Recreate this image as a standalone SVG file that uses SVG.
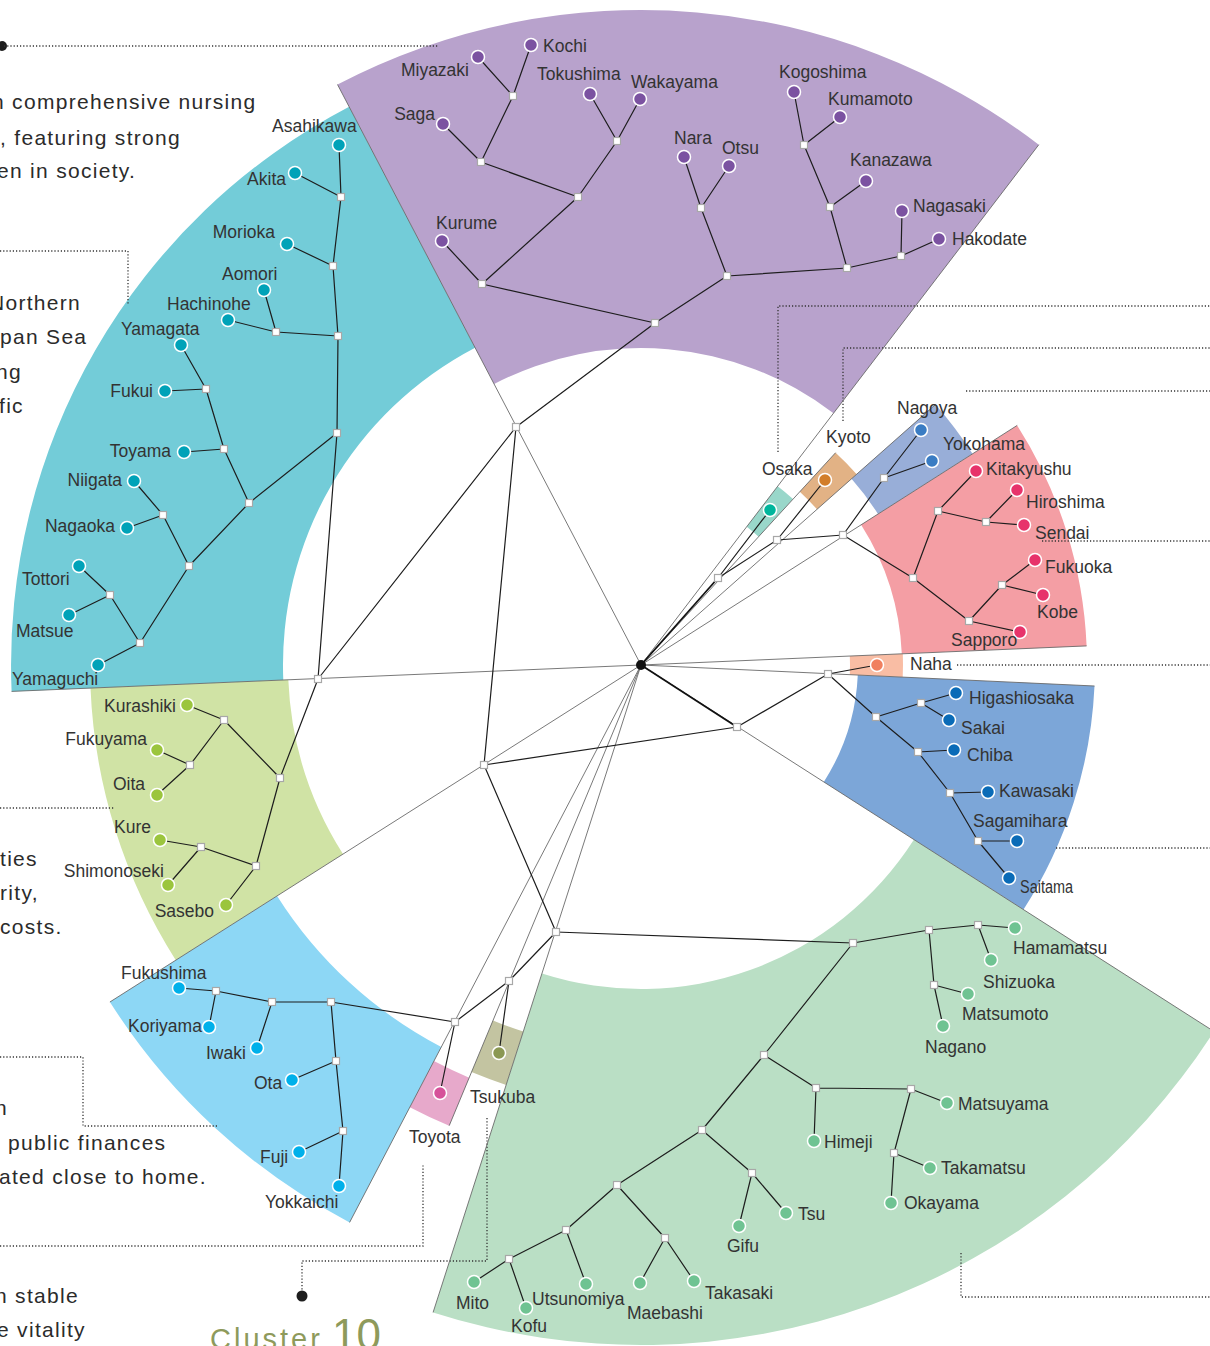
<svg xmlns="http://www.w3.org/2000/svg" xmlns:xlink="http://www.w3.org/1999/xlink" width="1210" height="1346" viewBox="0 0 1210 1346">
  <defs>
    <style>
      .lb { font-family: "Liberation Sans", Arial, sans-serif; font-size: 17.5px; fill: #333; }
      .e { text-anchor: end; }
      .body { font-family: "Liberation Sans", Arial, sans-serif; font-size: 21px; fill: #2b2b2b; letter-spacing: 1.3px; }
      .cl { font-family: "Liberation Sans", Arial, sans-serif; fill: #8e9a5b; }
      .bd { stroke: #6a6a6a; stroke-width: 0.9; fill: none; }
      .ed { stroke: #1d1d1d; stroke-width: 1.2; fill: none; stroke-linecap: round; }
      .root { stroke: #111; stroke-width: 1.8; fill: none; }
      .dt { stroke: #333; stroke-width: 1.3; fill: none; stroke-dasharray: 1.2 2; }
      .dot circle { stroke: #fff; stroke-width: 1.5; }
      .pu circle { fill: #7b52a1; }
      .cy circle { fill: #00a2b8; }
      .yg circle { fill: #9bc53d; }
      .lbl circle { fill: #00b0ea; }
      .gr circle { fill: #6fc392; }
      .bl circle { fill: #0a6bb7; }
      .pk circle { fill: #e7336b; }
      .ng circle { fill: #3a7cc3; }
    </style>
    <rect id="j" x="-3.5" y="-3.5" width="7" height="7" fill="#fff" stroke="#a8a8a8" stroke-width="1.2"/>
  </defs>

  <!-- cluster sectors (annular wedges around the root) -->
  <g id="sectors">
    <path id="sec-cyan" d="M 11.6 691.4 A 630 630 0 0 1 349.1 106.7 L 475.1 347.7 A 358 358 0 0 0 283.3 680 Z" fill="#73ccd8"/>
    <path id="sec-purple" d="M 337.5 84.5 A 655 655 0 0 1 1038.8 144.7 L 833.5 413.2 A 317 317 0 0 0 494.1 384.1 Z" fill="#b8a2cc"/>
    <path id="sec-yellow" d="M 175.8 960.2 A 551 551 0 0 1 90.5 688.1 L 288.3 679.8 A 353 353 0 0 0 343 854.1 Z" fill="#d0e3a5"/>
    <path id="sec-lightblue" d="M 349.6 1222.4 A 629 629 0 0 1 109.9 1002 L 277.1 895.9 A 431 431 0 0 0 441.3 1047 Z" fill="#8dd7f5"/>
    <path id="sec-toyota" d="M 449.2 1125.7 A 499 499 0 0 1 409.8 1107.2 L 433.9 1061.1 A 447 447 0 0 0 469.2 1077.7 Z" fill="#e7a9cb"/>
    <path id="sec-tsukuba" d="M 506.2 1084.9 A 441 441 0 0 1 471.5 1072.1 L 493 1020.4 A 385 385 0 0 0 523.3 1031.6 Z" fill="#c3c4a1"/>
    <path id="sec-green" d="M 1213.9 1031.4 A 680 680 0 0 1 433.1 1312.4 L 542 973.5 A 324 324 0 0 0 914 839.6 Z" fill="#badfc5"/>
    <path id="sec-blue" d="M 1094.5 686 A 454 454 0 0 1 1023.5 909.6 L 823.8 781.9 A 217 217 0 0 0 857.8 675 Z" fill="#7ca6d8"/>
    <path id="sec-naha" d="M 902.8 653.8 A 262 262 0 0 1 902.7 677.1 L 849.8 674.7 A 209 209 0 0 0 849.8 656.1 Z" fill="#f9bda4"/>
    <path id="sec-pink" d="M 1017.2 425.4 A 446 446 0 0 1 1086.6 645.9 L 901.8 653.8 A 261 261 0 0 0 861.1 524.8 Z" fill="#f49ea4"/>
    <path id="sec-nagoya" d="M 935.4 404.6 A 393 393 0 0 1 972.5 453.8 L 878 514 A 281 281 0 0 0 851.5 478.8 Z" fill="#98aed8"/>
    <path id="sec-kyoto" d="M 835.6 452.7 A 288 288 0 0 1 856.7 474.2 L 817 509.3 A 235 235 0 0 0 799.8 491.7 Z" fill="#e2b285"/>
    <path id="sec-osaka" d="M 777.7 486.3 A 225 225 0 0 1 793 499.1 L 758.6 536.7 A 174 174 0 0 0 746.7 526.8 Z" fill="#99d7ca"/>
  </g>

  <!-- leader lines and body text of the surrounding page -->
  <g id="leaders">
    <circle cx="2" cy="46" r="5" fill="#1d1d1d"/>
    <path class="dt" d="M 4 46 H 438"/>
    <path class="dt" d="M 0 251 H 128 V 305"/>
    <path class="dt" d="M 0 808 H 115"/>
    <path class="dt" d="M 0 1057 H 83 V 1126 H 217"/>
    <path class="dt" d="M 0 1246 H 423 V 1165"/>
    <path class="dt" d="M 487 1118 V 1261 H 302 V 1292"/>
    <circle cx="302" cy="1296" r="5.5" fill="#1d1d1d"/>
    <path class="dt" d="M 778 452 V 306 H 1210"/>
    <path class="dt" d="M 843 421 V 348 H 1210"/>
    <path class="dt" d="M 966 391 H 1210"/>
    <path class="dt" d="M 1042 541 H 1210"/>
    <path class="dt" d="M 957 665 H 1210"/>
    <path class="dt" d="M 1056 848 H 1210"/>
    <path class="dt" d="M 961 1253 V 1297 H 1210"/>
  </g>
  <g id="page-text" class="body">
    <text x="-8" y="109">n comprehensive nursing</text>
    <text x="0" y="145">, featuring strong</text>
    <text x="-3" y="178">en in society.</text>
    <text x="-11" y="310">Northern</text>
    <text x="0" y="344">pan Sea</text>
    <text x="-4" y="379">ng</text>
    <text x="-1" y="413">fic</text>
    <text x="0" y="866">ties</text>
    <text x="0" y="900">rity,</text>
    <text x="0" y="934">costs.</text>
    <text x="-5" y="1115">n</text>
    <text x="8" y="1150">public finances</text>
    <text x="-1" y="1184">ated close to home.</text>
    <text x="-5" y="1303">n stable</text>
    <text x="-3" y="1337">e vitality</text>
  </g>
  <g id="title">
    <text class="cl" x="210" y="1349" font-size="29" letter-spacing="3">Cluster</text>
    <text class="cl" x="332" y="1350" font-size="44">10</text>
  </g>

  <!-- connectors: cluster boundary rays and dendrogram branches -->
  <g id="connectors">
    <g class="bd">
      <path d="M 641 665 L 337.5 84.5"/>
      <path d="M 641 665 L 11.6 691.4"/>
      <path d="M 641 665 L 109.9 1002"/>
      <path d="M 641 665 L 349.6 1222.4"/>
      <path d="M 641 665 L 449.2 1125.7"/>
      <path d="M 641 665 L 433.1 1312.4"/>
      <path d="M 641 665 L 1213.9 1031.4"/>
      <path d="M 641 665 L 1094.5 686"/>
      <path d="M 641 665 L 1086.6 645.9"/>
      <path d="M 641 665 L 1017.2 425.4"/>
      <path d="M 641 665 L 935.4 404.6"/>
      <path d="M 641 665 L 835.6 452.7"/>
      <path d="M 641 665 L 1038.8 144.7"/>
    </g>
    <g class="root">
      <path d="M 641 665 L 737 727"/>
      <path d="M 641 665 L 718 578"/>
    </g>
    <g class="ed">
      <!-- trunk -->
      <path d="M 737 727 L 828 674"/>
      <path d="M 737 727 L 484 765"/>
      <path d="M 484 765 L 516 427"/>
      <path d="M 484 765 L 556 932"/>
      <path d="M 516 427 L 318 679"/>
      <path d="M 516 427 L 655 323"/>
      <path d="M 318 679 L 337 433"/>
      <path d="M 318 679 L 280 778"/>
      <path d="M 556 932 L 853 943"/>
      <path d="M 556 932 L 509 981"/>
      <path d="M 509 981 L 499 1053"/>
      <path d="M 509 981 L 455 1022"/>
      <path d="M 455 1022 L 440 1093"/>
      <path d="M 455 1022 L 331 1002"/>
      <path d="M 718 578 L 770 510"/>
      <path d="M 718 578 L 777 540"/>
      <path d="M 777 540 L 825 480"/>
      <path d="M 777 540 L 843 535"/>
      <path d="M 843 535 L 884 478"/>
      <path d="M 843 535 L 913 578"/>
      <path d="M 828 674 L 877 665"/>
      <path d="M 828 674 L 876 717"/>
      <!-- purple cluster -->
      <path d="M 655 323 L 482 284 M 655 323 L 727 276"/>
      <path d="M 482 284 L 442 241 M 482 284 L 578 197"/>
      <path d="M 578 197 L 481 162 M 578 197 L 617 141"/>
      <path d="M 481 162 L 443 124 M 481 162 L 513 96"/>
      <path d="M 513 96 L 478 57 M 513 96 L 531 45"/>
      <path d="M 617 141 L 590 94 M 617 141 L 640 99"/>
      <path d="M 727 276 L 701 208 M 727 276 L 847 268"/>
      <path d="M 701 208 L 684 157 M 701 208 L 729 166"/>
      <path d="M 847 268 L 830 207 M 847 268 L 901 256"/>
      <path d="M 830 207 L 804 145 M 830 207 L 866 181"/>
      <path d="M 804 145 L 794 92 M 804 145 L 840 117"/>
      <path d="M 901 256 L 902 211 M 901 256 L 939 239"/>
      <!-- cyan cluster -->
      <path d="M 337 433 L 338 336 M 337 433 L 249 503"/>
      <path d="M 338 336 L 333 266 M 338 336 L 276 332"/>
      <path d="M 276 332 L 264 290 M 276 332 L 228 320"/>
      <path d="M 333 266 L 341 197 M 333 266 L 287 244"/>
      <path d="M 341 197 L 339 145 M 341 197 L 295 173"/>
      <path d="M 249 503 L 224 449 M 249 503 L 189 566"/>
      <path d="M 224 449 L 184 452 M 224 449 L 206 389"/>
      <path d="M 206 389 L 181 345 M 206 389 L 165 391"/>
      <path d="M 189 566 L 163 515 M 189 566 L 140 643"/>
      <path d="M 163 515 L 134 481 M 163 515 L 127 528"/>
      <path d="M 140 643 L 110 595 M 140 643 L 98 665"/>
      <path d="M 110 595 L 79 566 M 110 595 L 69 615"/>
      <!-- yellow-green cluster -->
      <path d="M 280 778 L 224 720 M 280 778 L 256 866"/>
      <path d="M 224 720 L 187 705 M 224 720 L 190 765"/>
      <path d="M 190 765 L 157 750 M 190 765 L 157 795"/>
      <path d="M 256 866 L 201 847 M 256 866 L 226 905"/>
      <path d="M 201 847 L 160 840 M 201 847 L 168 885"/>
      <!-- light blue cluster -->
      <path d="M 331 1002 L 272 1002 M 331 1002 L 336 1061"/>
      <path d="M 272 1002 L 216 991 M 272 1002 L 257 1048"/>
      <path d="M 216 991 L 179 988 M 216 991 L 209 1027"/>
      <path d="M 336 1061 L 292 1080 M 336 1061 L 343 1131"/>
      <path d="M 343 1131 L 299 1152 M 343 1131 L 339 1186"/>
      <!-- green cluster -->
      <path d="M 853 943 L 929 930 M 853 943 L 764 1055"/>
      <path d="M 929 930 L 978 925 M 929 930 L 934 985"/>
      <path d="M 978 925 L 1015 928 M 978 925 L 991 960"/>
      <path d="M 934 985 L 968 994 M 934 985 L 943 1026"/>
      <path d="M 764 1055 L 816 1088 M 764 1055 L 702 1130"/>
      <path d="M 816 1088 L 814 1141 M 816 1088 L 911 1089"/>
      <path d="M 911 1089 L 947 1103 M 911 1089 L 894 1153"/>
      <path d="M 894 1153 L 930 1168 M 894 1153 L 891 1203"/>
      <path d="M 702 1130 L 752 1173 M 702 1130 L 617 1185"/>
      <path d="M 752 1173 L 739 1226 M 752 1173 L 786 1213"/>
      <path d="M 617 1185 L 665 1238 M 617 1185 L 566 1230"/>
      <path d="M 665 1238 L 640 1283 M 665 1238 L 694 1281"/>
      <path d="M 566 1230 L 509 1259 M 566 1230 L 586 1284"/>
      <path d="M 509 1259 L 474 1282 M 509 1259 L 526 1308"/>
      <!-- blue cluster -->
      <path d="M 876 717 L 921 703 M 876 717 L 918 752"/>
      <path d="M 921 703 L 956 693 M 921 703 L 949 720"/>
      <path d="M 918 752 L 954 750 M 918 752 L 950 793"/>
      <path d="M 950 793 L 988 792 M 950 793 L 978 841"/>
      <path d="M 978 841 L 1017 841 M 978 841 L 1009 878"/>
      <!-- pink cluster -->
      <path d="M 913 578 L 938 511 M 913 578 L 969 621"/>
      <path d="M 938 511 L 976 471 M 938 511 L 986 522"/>
      <path d="M 986 522 L 1017 490 M 986 522 L 1024 525"/>
      <path d="M 969 621 L 1002 585 M 969 621 L 1020 632"/>
      <path d="M 1002 585 L 1035 560 M 1002 585 L 1043 595"/>
      <!-- Nagoya pair -->
      <path d="M 884 478 L 921 430 M 884 478 L 932 461"/>
    </g>
    <!-- junction markers -->
    <g id="junctions">
      <use xlink:href="#j" x="737" y="727"/><use xlink:href="#j" x="718" y="578"/><use xlink:href="#j" x="828" y="674"/>
      <use xlink:href="#j" x="484" y="765"/><use xlink:href="#j" x="516" y="427"/><use xlink:href="#j" x="318" y="679"/>
      <use xlink:href="#j" x="556" y="932"/><use xlink:href="#j" x="509" y="981"/><use xlink:href="#j" x="455" y="1022"/>
      <use xlink:href="#j" x="777" y="540"/><use xlink:href="#j" x="843" y="535"/>
      <use xlink:href="#j" x="655" y="323"/><use xlink:href="#j" x="482" y="284"/><use xlink:href="#j" x="578" y="197"/>
      <use xlink:href="#j" x="481" y="162"/><use xlink:href="#j" x="513" y="96"/><use xlink:href="#j" x="617" y="141"/>
      <use xlink:href="#j" x="727" y="276"/><use xlink:href="#j" x="701" y="208"/><use xlink:href="#j" x="847" y="268"/>
      <use xlink:href="#j" x="830" y="207"/><use xlink:href="#j" x="804" y="145"/><use xlink:href="#j" x="901" y="256"/>
      <use xlink:href="#j" x="337" y="433"/><use xlink:href="#j" x="338" y="336"/><use xlink:href="#j" x="333" y="266"/>
      <use xlink:href="#j" x="341" y="197"/><use xlink:href="#j" x="276" y="332"/><use xlink:href="#j" x="249" y="503"/>
      <use xlink:href="#j" x="224" y="449"/><use xlink:href="#j" x="206" y="389"/><use xlink:href="#j" x="189" y="566"/>
      <use xlink:href="#j" x="163" y="515"/><use xlink:href="#j" x="140" y="643"/><use xlink:href="#j" x="110" y="595"/>
      <use xlink:href="#j" x="280" y="778"/><use xlink:href="#j" x="224" y="720"/><use xlink:href="#j" x="190" y="765"/>
      <use xlink:href="#j" x="256" y="866"/><use xlink:href="#j" x="201" y="847"/>
      <use xlink:href="#j" x="331" y="1002"/><use xlink:href="#j" x="272" y="1002"/><use xlink:href="#j" x="216" y="991"/>
      <use xlink:href="#j" x="336" y="1061"/><use xlink:href="#j" x="343" y="1131"/>
      <use xlink:href="#j" x="853" y="943"/><use xlink:href="#j" x="929" y="930"/><use xlink:href="#j" x="978" y="925"/>
      <use xlink:href="#j" x="934" y="985"/><use xlink:href="#j" x="764" y="1055"/><use xlink:href="#j" x="816" y="1088"/>
      <use xlink:href="#j" x="911" y="1089"/><use xlink:href="#j" x="894" y="1153"/><use xlink:href="#j" x="702" y="1130"/>
      <use xlink:href="#j" x="752" y="1173"/><use xlink:href="#j" x="617" y="1185"/><use xlink:href="#j" x="665" y="1238"/>
      <use xlink:href="#j" x="566" y="1230"/><use xlink:href="#j" x="509" y="1259"/>
      <use xlink:href="#j" x="876" y="717"/><use xlink:href="#j" x="921" y="703"/><use xlink:href="#j" x="918" y="752"/>
      <use xlink:href="#j" x="950" y="793"/><use xlink:href="#j" x="978" y="841"/>
      <use xlink:href="#j" x="913" y="578"/><use xlink:href="#j" x="938" y="511"/><use xlink:href="#j" x="986" y="522"/>
      <use xlink:href="#j" x="969" y="621"/><use xlink:href="#j" x="1002" y="585"/><use xlink:href="#j" x="884" y="478"/>
    </g>
    <circle id="root" cx="641" cy="665" r="5" fill="#111"/>
  </g>

  <!-- city nodes -->
  <g id="nodes" class="lb">
    <g class="dot pu">
      <g id="kochi"><circle cx="531" cy="45" r="6.5"/><text x="543" y="52">Kochi</text></g>
      <g id="miyazaki"><circle cx="478" cy="57" r="6.5"/><text class="e" x="469" y="76">Miyazaki</text></g>
      <g id="tokushima"><circle cx="590" cy="94" r="6.5"/><text x="537" y="80">Tokushima</text></g>
      <g id="wakayama"><circle cx="640" cy="99" r="6.5"/><text x="631" y="88">Wakayama</text></g>
      <g id="saga"><circle cx="443" cy="124" r="6.5"/><text class="e" x="435" y="120">Saga</text></g>
      <g id="kurume"><circle cx="442" cy="241" r="6.5"/><text x="436" y="229">Kurume</text></g>
      <g id="nara"><circle cx="684" cy="157" r="6.5"/><text x="674" y="144">Nara</text></g>
      <g id="otsu"><circle cx="729" cy="166" r="6.5"/><text x="722" y="154">Otsu</text></g>
      <g id="kogoshima"><circle cx="794" cy="92" r="6.5"/><text x="779" y="78">Kogoshima</text></g>
      <g id="kumamoto"><circle cx="840" cy="117" r="6.5"/><text x="828" y="105">Kumamoto</text></g>
      <g id="kanazawa"><circle cx="866" cy="181" r="6.5"/><text x="850" y="166">Kanazawa</text></g>
      <g id="nagasaki"><circle cx="902" cy="211" r="6.5"/><text x="913" y="212">Nagasaki</text></g>
      <g id="hakodate"><circle cx="939" cy="239" r="6.5"/><text x="952" y="245">Hakodate</text></g>
    </g>
    <g class="dot cy">
      <g id="asahikawa"><circle cx="339" cy="145" r="6.5"/><text x="272" y="132">Asahikawa</text></g>
      <g id="akita"><circle cx="295" cy="173" r="6.5"/><text class="e" x="286" y="185">Akita</text></g>
      <g id="morioka"><circle cx="287" cy="244" r="6.5"/><text class="e" x="275" y="238">Morioka</text></g>
      <g id="aomori"><circle cx="264" cy="290" r="6.5"/><text x="222" y="280">Aomori</text></g>
      <g id="hachinohe"><circle cx="228" cy="320" r="6.5"/><text x="167" y="310">Hachinohe</text></g>
      <g id="yamagata"><circle cx="181" cy="345" r="6.5"/><text x="121" y="335">Yamagata</text></g>
      <g id="fukui"><circle cx="165" cy="391" r="6.5"/><text class="e" x="153" y="397">Fukui</text></g>
      <g id="toyama"><circle cx="184" cy="452" r="6.5"/><text class="e" x="171" y="457">Toyama</text></g>
      <g id="niigata"><circle cx="134" cy="481" r="6.5"/><text class="e" x="122" y="486">Niigata</text></g>
      <g id="nagaoka"><circle cx="127" cy="528" r="6.5"/><text class="e" x="115" y="532">Nagaoka</text></g>
      <g id="tottori"><circle cx="79" cy="566" r="6.5"/><text x="22" y="585">Tottori</text></g>
      <g id="matsue"><circle cx="69" cy="615" r="6.5"/><text x="16" y="637">Matsue</text></g>
      <g id="yamaguchi"><circle cx="98" cy="665" r="6.5"/><text x="12" y="685">Yamaguchi</text></g>
    </g>
    <g class="dot yg">
      <g id="kurashiki"><circle cx="187" cy="705" r="6.5"/><text class="e" x="176" y="712">Kurashiki</text></g>
      <g id="fukuyama"><circle cx="157" cy="750" r="6.5"/><text class="e" x="147" y="745">Fukuyama</text></g>
      <g id="oita"><circle cx="157" cy="795" r="6.5"/><text class="e" x="145" y="790">Oita</text></g>
      <g id="kure"><circle cx="160" cy="840" r="6.5"/><text class="e" x="151" y="833">Kure</text></g>
      <g id="shimonoseki"><circle cx="168" cy="885" r="6.5"/><text class="e" x="164" y="877">Shimonoseki</text></g>
      <g id="sasebo"><circle cx="226" cy="905" r="6.5"/><text class="e" x="214" y="917">Sasebo</text></g>
    </g>
    <g class="dot lbl">
      <g id="fukushima"><circle cx="179" cy="988" r="6.5"/><text x="121" y="979">Fukushima</text></g>
      <g id="koriyama"><circle cx="209" cy="1027" r="6.5"/><text x="128" y="1032">Koriyama</text></g>
      <g id="iwaki"><circle cx="257" cy="1048" r="6.5"/><text x="206" y="1059">Iwaki</text></g>
      <g id="ota"><circle cx="292" cy="1080" r="6.5"/><text x="254" y="1089">Ota</text></g>
      <g id="fuji"><circle cx="299" cy="1152" r="6.5"/><text x="260" y="1163">Fuji</text></g>
      <g id="yokkaichi"><circle cx="339" cy="1186" r="6.5"/><text x="265" y="1208">Yokkaichi</text></g>
    </g>
    <g id="toyota" class="dot"><circle cx="440" cy="1093" r="6.5" fill="#d6519a"/><text x="409" y="1143">Toyota</text></g>
    <g id="tsukuba" class="dot"><circle cx="499" cy="1053" r="6.5" fill="#8b9853"/><text x="470" y="1103">Tsukuba</text></g>
    <g class="dot gr">
      <g id="hamamatsu"><circle cx="1015" cy="928" r="6.5"/><text x="1013" y="954">Hamamatsu</text></g>
      <g id="shizuoka"><circle cx="991" cy="960" r="6.5"/><text x="983" y="988">Shizuoka</text></g>
      <g id="matsumoto"><circle cx="968" cy="994" r="6.5"/><text x="962" y="1020">Matsumoto</text></g>
      <g id="nagano"><circle cx="943" cy="1026" r="6.5"/><text x="925" y="1053">Nagano</text></g>
      <g id="matsuyama"><circle cx="947" cy="1103" r="6.5"/><text x="958" y="1110">Matsuyama</text></g>
      <g id="himeji"><circle cx="814" cy="1141" r="6.5"/><text x="824" y="1148">Himeji</text></g>
      <g id="takamatsu"><circle cx="930" cy="1168" r="6.5"/><text x="941" y="1174">Takamatsu</text></g>
      <g id="okayama"><circle cx="891" cy="1203" r="6.5"/><text x="904" y="1209">Okayama</text></g>
      <g id="tsu"><circle cx="786" cy="1213" r="6.5"/><text x="798" y="1220">Tsu</text></g>
      <g id="gifu"><circle cx="739" cy="1226" r="6.5"/><text x="727" y="1252">Gifu</text></g>
      <g id="takasaki"><circle cx="694" cy="1281" r="6.5"/><text x="705" y="1299">Takasaki</text></g>
      <g id="maebashi"><circle cx="640" cy="1283" r="6.5"/><text x="627" y="1319">Maebashi</text></g>
      <g id="utsunomiya"><circle cx="586" cy="1284" r="6.5"/><text x="532" y="1305">Utsunomiya</text></g>
      <g id="mito"><circle cx="474" cy="1282" r="6.5"/><text x="456" y="1309" textLength="33" lengthAdjust="spacingAndGlyphs">Mito</text></g>
      <g id="kofu"><circle cx="526" cy="1308" r="6.5"/><text x="511" y="1332" textLength="36" lengthAdjust="spacingAndGlyphs">Kofu</text></g>
    </g>
    <g class="dot bl">
      <g id="higashiosaka"><circle cx="956" cy="693" r="6.5"/><text x="969" y="704">Higashiosaka</text></g>
      <g id="sakai"><circle cx="949" cy="720" r="6.5"/><text x="961" y="734">Sakai</text></g>
      <g id="chiba"><circle cx="954" cy="750" r="6.5"/><text x="967" y="761">Chiba</text></g>
      <g id="kawasaki"><circle cx="988" cy="792" r="6.5"/><text x="999" y="797">Kawasaki</text></g>
      <g id="sagamihara"><circle cx="1017" cy="841" r="6.5"/><text x="973" y="827">Sagamihara</text></g>
      <g id="saitama"><circle cx="1009" cy="878" r="6.5"/><text x="1020" y="893" textLength="53" lengthAdjust="spacingAndGlyphs">Saitama</text></g>
    </g>
    <g class="dot pk">
      <g id="kitakyushu"><circle cx="976" cy="471" r="6.5"/><text x="986" y="475">Kitakyushu</text></g>
      <g id="hiroshima"><circle cx="1017" cy="490" r="6.5"/><text x="1026" y="508">Hiroshima</text></g>
      <g id="sendai"><circle cx="1024" cy="525" r="6.5"/><text x="1035" y="539">Sendai</text></g>
      <g id="fukuoka"><circle cx="1035" cy="560" r="6.5"/><text x="1045" y="573">Fukuoka</text></g>
      <g id="kobe"><circle cx="1043" cy="595" r="6.5"/><text x="1037" y="618">Kobe</text></g>
      <g id="sapporo"><circle cx="1020" cy="632" r="6.5"/><text x="951" y="646">Sapporo</text></g>
    </g>
    <g class="dot ng">
      <g id="nagoya"><circle cx="921" cy="430" r="6.5"/><text x="897" y="414">Nagoya</text></g>
      <g id="yokohama"><circle cx="932" cy="461" r="6.5"/><text x="943" y="450">Yokohama</text></g>
    </g>
    <g id="kyoto" class="dot"><circle cx="825" cy="480" r="6.5" fill="#d27e2b"/><text x="826" y="443">Kyoto</text></g>
    <g id="osaka" class="dot"><circle cx="770" cy="510" r="6.5" fill="#00b59c"/><text x="762" y="475">Osaka</text></g>
    <g id="naha" class="dot"><circle cx="877" cy="665" r="6.5" fill="#f0805f"/><text x="910" y="670">Naha</text></g>
  </g>
</svg>
